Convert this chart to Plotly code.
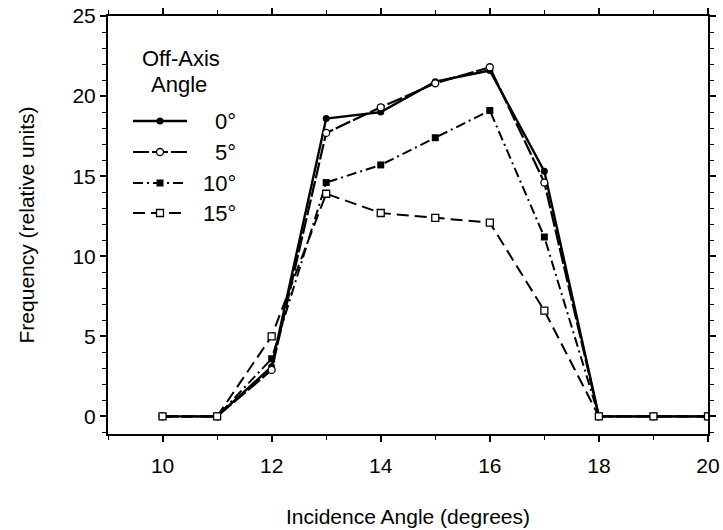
import plotly.graph_objects as go

# Incidence angle (degrees)
incidence = [10, 11, 12, 13, 14, 15, 16, 17, 18, 19, 20]

# Frequency (relative units) for each off-axis angle
freq_0 = [0, 0, 3.1, 18.6, 19.0, 20.9, 21.6, 15.3, 0, 0, 0]
freq_5 = [0, 0, 2.9, 17.7, 19.3, 20.8, 21.8, 14.6, 0, 0, 0]
freq_10 = [0, 0, 3.6, 14.6, 15.7, 17.4, 19.1, 11.2, 0, 0, 0]
freq_15 = [0, 0, 5.0, 13.9, 12.7, 12.4, 12.1, 6.6, 0, 0, 0]

angle_labels = ["0°", "5°", "10°", "15°"]

FONT = "Liberation Sans, Arial, sans-serif"
TICK_SIZE = 21

styles = [
    (dict(symbol="circle", size=7, color="black"),
     dict(color="black", width=2.4)),
    (dict(symbol="circle", size=7, color="white", line=dict(color="black", width=1.3)),
     dict(color="black", width=2.2, dash="16px,3px")),
    (dict(symbol="square", size=7, color="black"),
     dict(color="black", width=2.0, dash="10px,4px,2px,4px")),
    (dict(symbol="square", size=7, color="white", line=dict(color="black", width=1.3)),
     dict(color="black", width=2.0, dash="12px,6px")),
]
series = [freq_0, freq_5, freq_10, freq_15]

fig = go.Figure()
for vals, name, (marker, line) in zip(series, angle_labels, styles):
    fig.add_trace(go.Scatter(
        x=incidence, y=vals, mode="lines+markers", name=name,
        marker=marker, line=line, showlegend=False,
    ))

# Key drawn on a hidden overlay axis measured in page pixels
KEY_X0, KEY_X1, KEY_MID, KEY_TEXT_X = 133, 187, 160, 238
KEY_ROWS = [121, 152, 183, 213]
for row, name, (marker, line) in zip(KEY_ROWS, angle_labels, styles):
    fig.add_trace(go.Scatter(
        x=[KEY_X0, KEY_X1], y=[row, row], mode="lines", line=line,
        xaxis="x2", yaxis="y2", showlegend=False, hoverinfo="skip",
    ))
    fig.add_trace(go.Scatter(
        x=[KEY_MID], y=[row], mode="markers", marker=marker,
        xaxis="x2", yaxis="y2", showlegend=False, hoverinfo="skip",
    ))
    fig.add_annotation(
        x=KEY_TEXT_X, y=row, xref="x2", yref="y2", text=name, showarrow=False,
        xanchor="right", yanchor="middle", font=dict(family=FONT, size=22, color="black"),
    )
for text, cx, cy in [("Off-Axis", 181, 58), ("Angle", 179, 84)]:
    fig.add_annotation(
        x=cx, y=cy, xref="x2", yref="y2", text=text, showarrow=False,
        xanchor="center", yanchor="middle",
        font=dict(family=FONT, size=22, color="black"),
    )

axis_common = dict(
    showline=True, linecolor="black", linewidth=2, mirror="ticks",
    ticks="outside", ticklen=6, tickwidth=1.5, tickcolor="black",
    showgrid=False, zeroline=False, automargin=False,
    tickfont=dict(family=FONT, size=TICK_SIZE, color="black"),
)

fig.update_xaxes(
    range=[9, 20], tickvals=[10, 12, 14, 16, 18, 20],
    minor=dict(dtick=1, ticks="outside", ticklen=4, tickcolor="black", tickwidth=1.2),
    title=dict(text="Incidence Angle (degrees)", font=dict(family=FONT, size=21, color="black"), standoff=33),
    ticklabelstandoff=6,
    **axis_common,
)
fig.update_yaxes(
    range=[-1.1, 25], tickvals=[0, 5, 10, 15, 20, 25],
    minor=dict(dtick=1, ticks="outside", ticklen=4, tickcolor="black", tickwidth=1.2),
    title=dict(text="Frequency (relative units)", font=dict(family=FONT, size=21, color="black"), standoff=32),
    ticklabelstandoff=0,
    **axis_common,
)

fig.update_layout(
    width=723, height=530,
    margin=dict(l=108, r=15, t=16, b=96),
    paper_bgcolor="white", plot_bgcolor="white",
    font=dict(family=FONT, size=TICK_SIZE, color="black"),
    xaxis2=dict(overlaying="x", range=[108, 708], visible=False, fixedrange=True),
    yaxis2=dict(overlaying="y", range=[434, 16], visible=False, fixedrange=True),
    showlegend=False,
)

fig.write_html("out.html")
